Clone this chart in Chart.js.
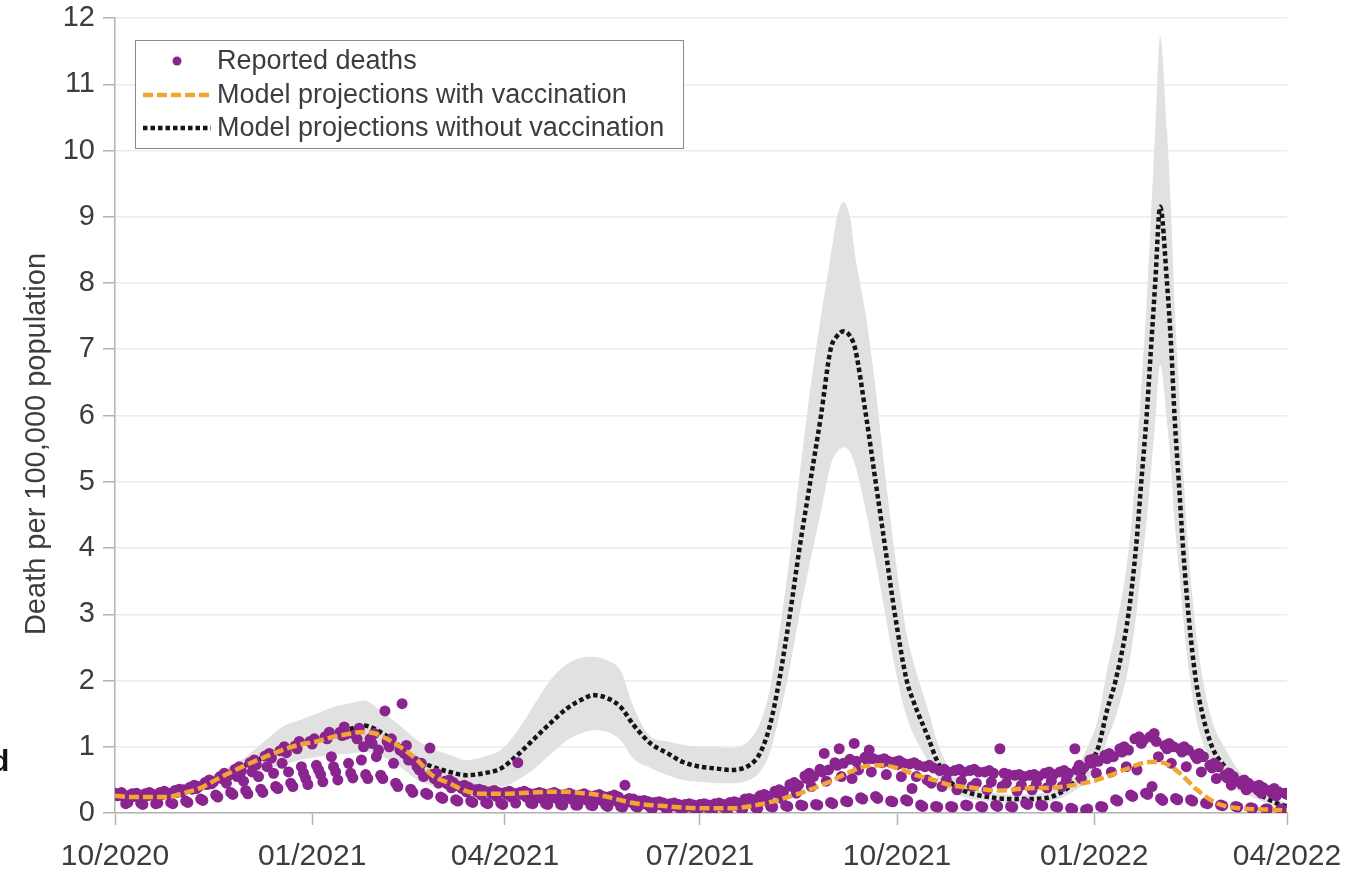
<!DOCTYPE html>
<html>
<head>
<meta charset="utf-8">
<title>Death per 100,000 population</title>
<script src="https://cdn.jsdelivr.net/npm/chart.js@4.4.0/dist/chart.umd.min.js"></script>
<style>
  html, body { margin: 0; padding: 0; background: #fff; }
  #wrap { position: relative; width: 1350px; height: 872px; overflow: hidden; }
  #cut { position: absolute; left: -9px; top: 744px; font: bold 30px "Liberation Sans", Arial, sans-serif; color: #111; }
</style>
</head>
<body>
<div id="wrap">
  <canvas id="chart" width="1350" height="872"></canvas>
  <span id="cut">d</span>
</div>
<script>
'use strict';

/* ── Data ─────────────────────────────────────────────────── */
// x values are days counted from 1 Oct 2020
const tickDays   = [0, 92, 182, 273, 365, 457, 547];
const tickLabels = ['10/2020', '01/2021', '04/2021', '07/2021', '10/2021', '01/2022', '04/2022'];

// reported deaths, one value per day (a row is one week)
const reportedDeaths = [
  0.30, 0.26, 0.28, 0.31, 0.25, 0.14, 0.16,
  0.27, 0.29, 0.25, 0.30, 0.27, 0.15, 0.13,
  0.29, 0.26, 0.31, 0.27, 0.28, 0.14, 0.15,
  0.31, 0.28, 0.33, 0.29, 0.30, 0.16, 0.14,
  0.34, 0.31, 0.36, 0.32, 0.35, 0.18, 0.16,
  0.39, 0.36, 0.42, 0.37, 0.40, 0.21, 0.19,
  0.46, 0.43, 0.50, 0.44, 0.47, 0.27, 0.24,
  0.55, 0.52, 0.60, 0.45, 0.57, 0.31, 0.28,
  0.66, 0.55, 0.70, 0.63, 0.48, 0.34, 0.29,
  0.76, 0.62, 0.80, 0.73, 0.55, 0.36, 0.31,
  0.86, 0.70, 0.90, 0.83, 0.60, 0.40, 0.37,
  0.94, 0.75, 1.00, 0.91, 0.62, 0.45, 0.40,
  1.01, 0.97, 1.08, 0.70, 0.60, 0.52, 0.43,
  1.08, 1.04, 1.12, 0.72, 0.65, 0.58, 0.47,
  1.15, 1.12, 1.22, 0.85, 0.70, 0.62, 0.50,
  1.22, 1.17, 1.30, 1.19, 0.75, 0.60, 0.53,
  1.18, 1.12, 1.28, 0.80, 1.00, 0.58, 0.52,
  1.12, 1.05, 1.20, 0.85, 0.95, 0.57, 0.52,
  1.54, 1.08, 1.00, 1.12, 0.75, 0.45, 0.40,
  0.95, 1.65, 0.90, 1.02, 0.80, 0.36, 0.31,
  0.78, 0.70, 0.65, 0.75, 0.55, 0.30, 0.28,
  0.98, 0.58, 0.52, 0.60, 0.45, 0.24, 0.22,
  0.48, 0.44, 0.50, 0.38, 0.46, 0.20, 0.18,
  0.40, 0.37, 0.42, 0.32, 0.39, 0.18, 0.16,
  0.35, 0.32, 0.36, 0.27, 0.34, 0.16, 0.14,
  0.32, 0.29, 0.34, 0.25, 0.31, 0.15, 0.13,
  0.31, 0.28, 0.33, 0.24, 0.30, 0.15, 0.76,
  0.31, 0.28, 0.33, 0.24, 0.30, 0.15, 0.14,
  0.29, 0.27, 0.31, 0.22, 0.29, 0.14, 0.13,
  0.29, 0.26, 0.31, 0.22, 0.28, 0.13, 0.12,
  0.28, 0.25, 0.30, 0.21, 0.27, 0.12, 0.12,
  0.27, 0.24, 0.29, 0.20, 0.26, 0.12, 0.11,
  0.26, 0.23, 0.28, 0.19, 0.25, 0.12, 0.10,
  0.25, 0.22, 0.27, 0.18, 0.24, 0.10, 0.09,
  0.42, 0.20, 0.22, 0.16, 0.21, 0.10, 0.09,
  0.18, 0.16, 0.19, 0.13, 0.17, 0.08, 0.07,
  0.16, 0.14, 0.17, 0.12, 0.15, 0.07, 0.06,
  0.14, 0.12, 0.15, 0.10, 0.13, 0.06, 0.05,
  0.13, 0.11, 0.14, 0.09, 0.12, 0.06, 0.05,
  0.13, 0.11, 0.14, 0.09, 0.12, 0.06, 0.05,
  0.14, 0.12, 0.15, 0.10, 0.13, 0.06, 0.05,
  0.16, 0.14, 0.17, 0.11, 0.15, 0.07, 0.06,
  0.21, 0.18, 0.22, 0.15, 0.20, 0.08, 0.07,
  0.26, 0.23, 0.28, 0.18, 0.25, 0.10, 0.09,
  0.33, 0.30, 0.35, 0.22, 0.32, 0.11, 0.10,
  0.43, 0.40, 0.46, 0.30, 0.42, 0.12, 0.11,
  0.56, 0.52, 0.60, 0.40, 0.55, 0.13, 0.12,
  0.66, 0.62, 0.90, 0.48, 0.65, 0.16, 0.14,
  0.76, 0.72, 0.97, 0.55, 0.75, 0.18, 0.17,
  0.81, 0.52, 1.05, 0.78, 0.65, 0.23, 0.21,
  0.84, 0.80, 0.95, 0.62, 0.82, 0.25, 0.22,
  0.80, 0.76, 0.82, 0.58, 0.78, 0.18, 0.17,
  0.77, 0.73, 0.79, 0.55, 0.75, 0.20, 0.18,
  0.74, 0.37, 0.76, 0.55, 0.72, 0.12, 0.10,
  0.70, 0.50, 0.72, 0.45, 0.68, 0.10, 0.09,
  0.64, 0.40, 0.66, 0.50, 0.62, 0.10, 0.09,
  0.64, 0.35, 0.66, 0.48, 0.62, 0.12, 0.11,
  0.64, 0.40, 0.66, 0.45, 0.62, 0.10, 0.09,
  0.62, 0.35, 0.64, 0.47, 0.60, 0.12, 0.10,
  0.97, 0.40, 0.60, 0.45, 0.58, 0.10, 0.09,
  0.57, 0.33, 0.58, 0.42, 0.55, 0.15, 0.13,
  0.57, 0.35, 0.58, 0.44, 0.55, 0.12, 0.11,
  0.60, 0.38, 0.62, 0.48, 0.58, 0.10, 0.09,
  0.62, 0.40, 0.64, 0.50, 0.60, 0.07, 0.06,
  0.97, 0.65, 0.72, 0.52, 0.68, 0.05, 0.06,
  0.80, 0.75, 0.82, 0.60, 0.78, 0.10, 0.09,
  0.87, 0.82, 0.90, 0.62, 0.85, 0.20, 0.18,
  0.97, 0.92, 1.00, 0.70, 0.95, 0.27, 0.25,
  1.12, 0.65, 1.15, 1.05, 1.10, 0.30, 0.28,
  1.15, 0.40, 1.20, 1.08, 0.85, 0.22, 0.19,
  1.02, 0.97, 1.05, 0.75, 1.00, 0.22, 0.20,
  0.97, 0.92, 1.00, 0.70, 0.95, 0.20, 0.18,
  0.87, 0.82, 0.90, 0.62, 0.85, 0.15, 0.14,
  0.72, 0.68, 0.75, 0.52, 0.70, 0.12, 0.11,
  0.57, 0.53, 0.60, 0.42, 0.55, 0.10, 0.09,
  0.47, 0.43, 0.50, 0.35, 0.45, 0.08, 0.07,
  0.40, 0.36, 0.42, 0.30, 0.38, 0.06, 0.06,
  0.34, 0.30, 0.37, 0.26, 0.32, 0.06, 0.05,
  0.30, 0.28
];

// model with vaccination
const vaxDays = [
  0, 8, 24, 32, 40, 47, 55, 63, 71, 78,
  86, 94, 102, 110, 114, 120, 125, 133, 141, 148,
  156, 164, 172, 180, 195, 203, 211, 218, 226, 234,
  242, 258, 273, 288, 296, 304, 312, 320, 332, 343,
  351, 358, 366, 374, 382, 390, 398, 413, 424, 440,
  455, 463, 471, 483, 489, 497, 505, 514, 525, 540,
  547
];
const vaxDeaths = [
  0.26, 0.24, 0.24, 0.30, 0.38, 0.50, 0.63, 0.75, 0.86, 0.95,
  1.03, 1.08, 1.15, 1.20, 1.22, 1.21, 1.15, 1.00, 0.80, 0.57,
  0.45, 0.33, 0.29, 0.29, 0.31, 0.32, 0.32, 0.30, 0.27, 0.21,
  0.15, 0.10, 0.07, 0.07, 0.10, 0.15, 0.22, 0.30, 0.45, 0.62,
  0.71, 0.72, 0.67, 0.57, 0.50, 0.42, 0.39, 0.34, 0.37, 0.39,
  0.47, 0.55, 0.65, 0.77, 0.76, 0.60, 0.35, 0.15, 0.07, 0.05,
  0.04
];

// model without vaccination, with its uncertainty band
const noVaxDays = [
  0, 8, 24, 32, 40, 47, 55, 63, 71, 78,
  86, 94, 102, 110, 116, 125, 133, 141, 148, 156,
  164, 172, 180, 188, 195, 203, 211, 219, 223, 230,
  236, 242, 250, 258, 265, 273, 281, 287, 296, 301,
  305.5, 310, 315, 319.5, 324.5, 329.5, 334, 337, 340, 343,
  345.5, 350.5, 355, 359.5, 364, 369.5, 372.5, 380, 383.5, 389,
  396, 406, 420, 433, 441, 449, 454, 459, 463, 467,
  473, 476.5, 479, 481.5, 483.5, 485.5, 487.8, 491, 493, 494.5,
  496.5, 498.5, 501, 504.5, 507.5, 512, 518, 525, 533, 542,
  547
];
const noVaxDeaths = [
  0.25, 0.24, 0.24, 0.30, 0.38, 0.50, 0.63, 0.75, 0.86, 0.95,
  1.03, 1.10, 1.18, 1.27, 1.32, 1.20, 1.00, 0.80, 0.70, 0.62,
  0.57, 0.60, 0.67, 0.88, 1.10, 1.35, 1.58, 1.73, 1.78, 1.73,
  1.60, 1.33, 1.05, 0.90, 0.77, 0.70, 0.67, 0.65, 0.72, 0.90,
  1.30, 2.00, 3.00, 4.00, 5.00, 6.00, 7.00, 7.20, 7.27, 7.20,
  7.00, 6.00, 5.00, 4.00, 3.00, 2.00, 1.70, 1.10, 0.80, 0.50,
  0.34, 0.25, 0.21, 0.22, 0.30, 0.50, 0.70, 1.00, 1.55, 2.00,
  3.00, 4.00, 5.00, 6.00, 7.00, 8.00, 9.15, 8.00, 7.00, 6.00,
  5.00, 4.00, 3.00, 2.00, 1.50, 1.00, 0.70, 0.45, 0.30, 0.15,
  0.10
];
const noVaxLow = [
  0.22, 0.21, 0.21, 0.26, 0.32, 0.42, 0.52, 0.60, 0.66, 0.72,
  0.80, 0.84, 0.88, 0.90, 0.92, 0.85, 0.70, 0.50, 0.42, 0.40,
  0.40, 0.40, 0.40, 0.50, 0.65, 0.88, 1.10, 1.22, 1.25, 1.22,
  1.10, 0.82, 0.68, 0.57, 0.50, 0.47, 0.45, 0.45, 0.50, 0.62,
  0.90, 1.45, 2.20, 3.00, 3.80, 4.55, 5.25, 5.45, 5.52, 5.45,
  5.25, 4.55, 3.80, 3.00, 2.20, 1.45, 1.20, 0.75, 0.55, 0.35,
  0.24, 0.18, 0.15, 0.16, 0.22, 0.36, 0.50, 0.72, 1.10, 1.45,
  2.20, 2.95, 3.70, 4.40, 5.15, 5.90, 6.77, 5.90, 5.15, 4.40,
  3.70, 2.95, 2.20, 1.45, 1.08, 0.72, 0.50, 0.32, 0.21, 0.10,
  0.07
];
const noVaxHigh = [
  0.28, 0.27, 0.28, 0.35, 0.45, 0.60, 0.72, 0.90, 1.12, 1.30,
  1.40, 1.50, 1.60, 1.66, 1.70, 1.52, 1.32, 1.10, 0.97, 0.88,
  0.80, 0.85, 0.95, 1.25, 1.60, 2.00, 2.25, 2.35, 2.36, 2.30,
  2.15, 1.60, 1.15, 1.08, 1.03, 1.00, 1.00, 0.98, 1.10, 1.35,
  1.85, 2.70, 3.90, 5.10, 6.40, 7.50, 8.40, 9.00, 9.22, 9.00,
  8.40, 7.50, 6.40, 5.10, 3.90, 2.70, 2.30, 1.50, 1.10, 0.70,
  0.45, 0.33, 0.28, 0.30, 0.42, 0.70, 1.00, 1.45, 2.15, 2.75,
  3.95, 5.20, 6.45, 7.70, 9.00, 10.30, 11.73, 10.30, 9.00, 7.70,
  6.45, 5.20, 3.95, 2.75, 2.05, 1.40, 0.98, 0.62, 0.42, 0.22,
  0.15
];

/* ── Styles ───────────────────────────────────────────────── */
const FONT   = '"Liberation Sans", Arial, Helvetica, sans-serif';
const TEXT   = '#3d3d3d';
const AXIS   = '#b3b3b3';
const PURPLE = '#8a248f';
const ORANGE = '#f0a630';
const BLACK  = '#151515';
const BAND   = '#e1e1e1';

const toPoints = (xs, ys) => ys.map((y, i) => ({ x: xs[i], y }));

/* ── Legend box + rotated y title ─────────────────────────── */
const legendBox = {
  id: 'legendBox',
  afterDraw(chart) {
    const { ctx } = chart;
    const sets = chart.data.datasets;
    ctx.save();

    // y axis title
    ctx.fillStyle = TEXT;
    ctx.font = `29px ${FONT}`;
    ctx.textAlign = 'center';
    ctx.textBaseline = 'middle';
    ctx.translate(37, 444);
    ctx.rotate(-Math.PI / 2);
    ctx.fillText('Death per 100,000 population', 0, 0);
    ctx.setTransform(1, 0, 0, 1, 0, 0);

    // box
    ctx.fillStyle = '#fff';
    ctx.fillRect(135, 40, 548, 108);
    ctx.strokeStyle = '#8a8a8a';
    ctx.lineWidth = 1;
    ctx.strokeRect(135.5, 40.5, 548, 108);

    const rows = [61, 95, 128];
    [sets[0], sets[1], sets[2]].forEach((ds, i) => {
      const y = rows[i];
      if (ds.showLine) {
        ctx.beginPath();
        ctx.setLineDash(ds.borderDash);
        ctx.lineWidth = ds.borderWidth;
        ctx.strokeStyle = ds.borderColor;
        ctx.moveTo(143, y);
        ctx.lineTo(211, y);
        ctx.stroke();
        ctx.setLineDash([]);
      } else {
        ctx.beginPath();
        ctx.arc(177, y, 4.5, 0, Math.PI * 2);
        ctx.fillStyle = ds.backgroundColor;
        ctx.fill();
      }
      ctx.fillStyle = TEXT;
      ctx.font = `27px ${FONT}`;
      ctx.textAlign = 'left';
      ctx.textBaseline = 'middle';
      ctx.fillText(ds.label, 217, y + 1);
    });
    ctx.restore();
  }
};

/* ── Chart ────────────────────────────────────────────────── */
new Chart(document.getElementById('chart'), {
  type: 'scatter',
  data: {
    datasets: [
      {
        label: 'Reported deaths',
        data: reportedDeaths.map((y, d) => ({ x: d, y })),
        backgroundColor: PURPLE,
        borderWidth: 0,
        pointRadius: 5.5,
        order: 1,
      },
      {
        label: 'Model projections with vaccination',
        data: toPoints(vaxDays, vaxDeaths),
        showLine: true,
        borderColor: ORANGE,
        borderWidth: 4.5,
        borderDash: [10, 4],
        pointRadius: 0,
        cubicInterpolationMode: 'monotone',
        order: 0,
      },
      {
        label: 'Model projections without vaccination',
        data: toPoints(noVaxDays, noVaxDeaths),
        showLine: true,
        borderColor: BLACK,
        borderWidth: 4.5,
        borderDash: [4.5, 3],
        pointRadius: 0,
        cubicInterpolationMode: 'monotone',
        order: 2,
      },
      {
        label: 'upper',
        data: toPoints(noVaxDays, noVaxHigh),
        showLine: true,
        borderWidth: 0,
        borderColor: 'rgba(0,0,0,0)',
        backgroundColor: BAND,
        fill: '+1',
        pointRadius: 0,
        cubicInterpolationMode: 'monotone',
        order: 3,
      },
      {
        label: 'lower',
        data: toPoints(noVaxDays, noVaxLow),
        showLine: true,
        borderWidth: 0,
        borderColor: 'rgba(0,0,0,0)',
        pointRadius: 0,
        fill: false,
        cubicInterpolationMode: 'monotone',
        order: 4,
      },
    ],
  },
  options: {
    responsive: false,
    animation: false,
    layout: { padding: { top: 18, right: 63, left: 0, bottom: 0 } },
    plugins: {
      legend: { display: false },
      tooltip: { enabled: false },
    },
    scales: {
      x: {
        type: 'linear',
        min: 0, max: 547,
        afterBuildTicks: (axis) => { axis.ticks = tickDays.map(v => ({ value: v })); },
        afterFit: (s) => { s.height = 59; s.paddingLeft = 0; s.paddingRight = 0; },
        ticks: {
          autoSkip: false, maxRotation: 0, padding: 14,
          color: TEXT, font: { family: FONT, size: 30 },
          callback: (v, i) => tickLabels[i],
        },
        grid: { drawOnChartArea: false, tickLength: 12, tickColor: AXIS, tickWidth: 1.5 },
        border: { color: AXIS, width: 1.5 },
      },
      y: {
        min: 0, max: 12,
        afterFit: (s) => { s.width = 115; s.paddingTop = 0; s.paddingBottom = 0; },
        ticks: {
          stepSize: 1, padding: 8,
          color: TEXT, font: { family: FONT, size: 29 },
        },
        grid: { color: '#ececec', lineWidth: 1.5, tickLength: 12, tickColor: AXIS, tickWidth: 1.5 },
        border: { color: AXIS, width: 1.5 },
      },
    },
  },
  plugins: [legendBox],
});
</script>
</body>
</html>
